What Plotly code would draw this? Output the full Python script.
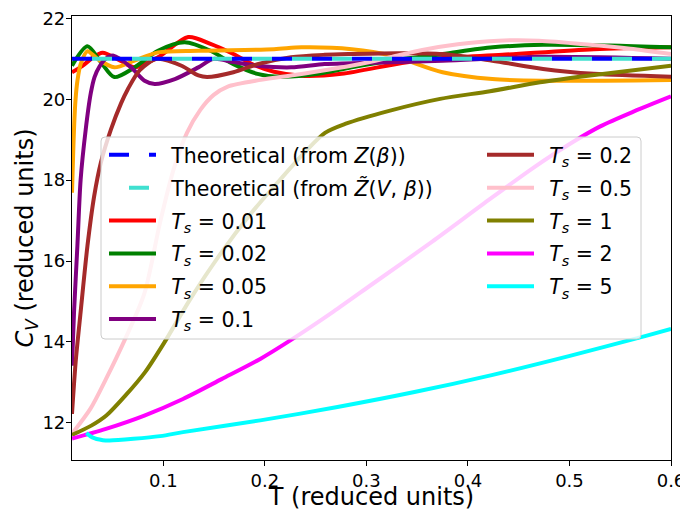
import plotly.graph_objects as go

# ---------------- data ----------------
theory_T = [0.01, 0.6]
theory_Z = [21.0, 21.0]
theory_Zt = [21.0, 21.0]

T_001 = [0.01, 0.02, 0.03, 0.04, 0.058, 0.0716, 0.0947, 0.1245, 0.1464, 0.169, 0.191, 0.209,
         0.236, 0.2755, 0.335, 0.375, 0.434, 0.524, 0.6]
C_001 = [20.67, 20.82, 21.02, 21.15, 20.95, 20.79, 21.04, 21.54, 21.37, 21.12, 20.83, 20.68,
         20.58, 20.63, 20.90, 21.02, 21.10, 21.24, 21.29]

T_002 = [0.01, 0.0252, 0.0384, 0.0517, 0.0716, 0.0947, 0.121, 0.1464, 0.169, 0.1927, 0.216,
         0.2524, 0.2854, 0.325, 0.375, 0.4244, 0.474, 0.54, 0.6]
C_002 = [20.83, 21.31, 20.92, 20.55, 20.79, 21.20, 21.41, 21.20, 20.87, 20.63, 20.56,
         20.63, 20.79, 20.96, 21.12, 21.285, 21.35, 21.33, 21.285]

T_005 = [0.01, 0.0112, 0.0122, 0.0135, 0.0153, 0.0185, 0.0252, 0.0351, 0.0517, 0.0716, 0.0947,
         0.1345, 0.209, 0.236, 0.2855, 0.325, 0.375, 0.424, 0.474, 0.6]
C_005 = [17.69, 18.7, 19.4, 20.0, 20.45, 20.87, 21.19, 21.0, 20.79, 20.955, 21.16,
         21.20, 21.24, 21.285, 21.24, 21.08, 20.67, 20.50, 20.46, 20.48]

T_01 = [0.01, 0.012, 0.0153, 0.0185, 0.0235, 0.0285, 0.0322, 0.0371, 0.0431, 0.051, 0.0682,
        0.0815, 0.0914, 0.1113, 0.1345, 0.1493, 0.169, 0.1927, 0.2258, 0.2586, 0.2854, 0.375,
        0.474, 0.6]
C_01 = [13.41, 14.74, 16.37, 18.01, 19.25, 20.15, 20.55, 20.81, 21.0, 21.08, 20.79,
        20.46, 20.38, 20.50, 20.79, 21.0, 20.92, 20.83, 20.79, 20.87, 20.89, 20.955,
        21.05, 21.0]

T_02 = [0.01, 0.0136, 0.0185, 0.0252, 0.0318, 0.0384, 0.0483, 0.0583, 0.065, 0.0768, 0.0937,
        0.1179, 0.1345, 0.143, 0.169, 0.1927, 0.2258, 0.2586, 0.2854, 0.33, 0.375, 0.424,
        0.474, 0.524, 0.6]
C_02 = [12.22, 13.50, 14.74, 16.37, 17.60, 18.43, 19.25, 19.90, 20.25, 20.72, 21.0,
        20.83, 20.59, 20.55, 20.67, 20.87, 21.04, 21.10, 21.12, 21.14, 21.12, 20.955,
        20.75, 20.63, 20.56]

T_05 = [0.01, 0.0282, 0.0434, 0.0623, 0.0813, 0.0967, 0.11, 0.1232, 0.1364, 0.1496, 0.1629,
        0.196, 0.229, 0.262, 0.295, 0.325, 0.355, 0.39, 0.43, 0.47, 0.52, 0.56, 0.6]
C_05 = [11.73, 12.35, 13.08, 14.07, 15.2, 16.95, 18.26, 19.17, 19.74, 20.11, 20.31,
        20.48, 20.60, 20.73, 20.88, 21.05, 21.22, 21.36, 21.45, 21.45, 21.35, 21.25, 21.12]

T_1 = [0.01, 0.029, 0.0438, 0.0625, 0.0822, 0.1013, 0.1265, 0.156, 0.1854, 0.2149, 0.2396,
       0.2592, 0.279, 0.3233, 0.3726, 0.4218, 0.471, 0.5203, 0.6]
C_1 = [11.70, 11.93, 12.18, 12.67, 13.26, 14.0, 15.06, 16.17, 17.15, 18.01, 18.70,
       19.17, 19.39, 19.72, 20.01, 20.20, 20.42, 20.59, 20.83]

T_2 = [0.01, 0.0434, 0.0813, 0.1193, 0.1573, 0.1954, 0.2258, 0.2675, 0.3052, 0.3648, 0.4145,
       0.464, 0.5038, 0.5303, 0.5636, 0.6]
C_2 = [11.61, 11.85, 12.18, 12.59, 13.08, 13.58, 14.05, 14.75, 15.42, 16.48, 17.40,
       18.30, 18.95, 19.33, 19.70, 20.07]

T_5 = [0.0242, 0.03, 0.0404, 0.047, 0.0967, 0.1193, 0.1954, 0.2715, 0.3473, 0.4234, 0.4994,
       0.5753, 0.6]
C_5 = [11.75, 11.64, 11.57, 11.56, 11.67, 11.77, 12.06, 12.39, 12.76, 13.18, 13.65,
       14.15, 14.32]

x_ticks = [0.1, 0.2, 0.3, 0.4, 0.5, 0.6]
x_ticklabels = ["0.1", "0.2", "0.3", "0.4", "0.5", "0.6"]
y_ticks = [12, 14, 16, 18, 20, 22]
y_ticklabels = ["12", "14", "16", "18", "20", "22"]

series = [
    ("0.01", T_001, C_001, "red", "legend"),
    ("0.02", T_002, C_002, "green", "legend"),
    ("0.05", T_005, C_005, "orange", "legend"),
    ("0.1", T_01, C_01, "purple", "legend"),
    ("0.2", T_02, C_02, "brown", "legend2"),
    ("0.5", T_05, C_05, "pink", "legend2"),
    ("1", T_1, C_1, "olive", "legend2"),
    ("2", T_2, C_2, "magenta", "legend2"),
    ("5", T_5, C_5, "cyan", "legend2"),
]

FONT = "DejaVu Sans"
SP = "\u2002"  # en space: widens the gap between legend line and label text
fig = go.Figure()

for i, (lab, t, c, col, lg) in enumerate(series):
    fig.add_trace(go.Scatter(
        x=t, y=c, mode="lines",
        line=dict(color=col, width=4, shape="spline", smoothing=0.8),
        name=SP + "<i>T</i><sub><i>s</i></sub> = " + lab,
        legend=lg, legendgroup="g" + lab, legendrank=10 + i,
    ))

fig.add_trace(go.Scatter(
    x=theory_T, y=theory_Z, mode="lines",
    line=dict(color="blue", width=4, dash="20px,20px"),
    name=SP + "Theoretical (from <i>Z</i>(<i>β</i>))",
    legend="legend", legendgroup="th1", legendrank=1,
))
fig.add_trace(go.Scatter(
    x=theory_T, y=theory_Zt, mode="lines",
    line=dict(color="turquoise", width=4, dash="0px,20px,20px,0px"),
    name=SP + "Theoretical (from <i>Z\u0303</i>(<i>V</i>, <i>β</i>))",
    legend="legend", legendgroup="th2", legendrank=2,
))

# The page body has an 8px default margin, so the figure is drawn 8px in from
# the window's top-left corner; the sizes below account for it.
W, H = 680, 503
ML, MR, MT, MB = 64, 17, 8, 51
PW, PH = W - ML - MR, H - MT - MB   # plot area in px (window x 72..671, y 16..460)
OX, OY = 8 + ML, 8 + MT            # window position of plot area's top-left


def px_x(x):
    return (x - OX) / PW


def px_y(y):
    return 1 - (y - OY) / PH


# legend frame (semi-transparent, rounded) in paper coordinates
x0, x1 = px_x(101), px_x(641)
y0, y1 = px_y(339), px_y(137)
rx, ry = 4 / PW, 4 / PH
path = (f"M{x0+rx},{y0} L{x1-rx},{y0} Q{x1},{y0} {x1},{y0+ry} L{x1},{y1-ry} "
        f"Q{x1},{y1} {x1-rx},{y1} L{x0+rx},{y1} Q{x0},{y1} {x0},{y1-ry} "
        f"L{x0},{y0+ry} Q{x0},{y0} {x0+rx},{y0} Z")
fig.add_shape(type="path", path=path, xref="paper", yref="paper",
              fillcolor="rgba(255,255,255,0.8)", line=dict(color="#cccccc", width=1),
              layer="above")

leg_common = dict(bgcolor="rgba(0,0,0,0)", borderwidth=0, itemwidth=47,
                  font=dict(family=FONT, size=20.5, color="black"),
                  tracegroupgap=3.2, xanchor="left", yanchor="top",
                  itemclick=False, itemdoubleclick=False)

fig.update_layout(
    width=W, height=H,
    margin=dict(l=ML, r=MR, t=MT, b=MB, pad=0),
    paper_bgcolor="white", plot_bgcolor="white",
    font=dict(family=FONT, size=18, color="black"),
    showlegend=True,
    legend=dict(x=px_x(104), y=px_y(135), **leg_common),
    legend2=dict(x=px_x(482), y=px_y(135), **leg_common),
    xaxis=dict(
        range=[0.01, 0.6], tickvals=x_ticks, ticktext=x_ticklabels, automargin=False,
        showgrid=False, zeroline=False, showline=True, mirror=True,
        linecolor="black", linewidth=1.2, ticks="outside", ticklen=5, tickwidth=1.2,
        tickcolor="black", tickfont=dict(family=FONT, size=18, color="black"),
        ticklabelstandoff=-1, ticklabeloverflow="allow",
        title=dict(text="T (reduced units)", font=dict(family=FONT, size=24, color="black"),
                   standoff=6),
    ),
    yaxis=dict(
        range=[11.08, 22.06], tickvals=y_ticks, ticktext=y_ticklabels, automargin=False,
        showgrid=False, zeroline=False, showline=True, mirror=True,
        linecolor="black", linewidth=1.2, ticks="outside", ticklen=5, tickwidth=1.2,
        tickcolor="black", tickfont=dict(family=FONT, size=18, color="black"),
        ticklabelstandoff=-3, ticklabeloverflow="allow",
        title=dict(text="<i>C</i><sub><i>V</i></sub> (reduced units)",
                   font=dict(family=FONT, size=24, color="black"), standoff=0),
    ),
)

fig.write_html("out.html")
